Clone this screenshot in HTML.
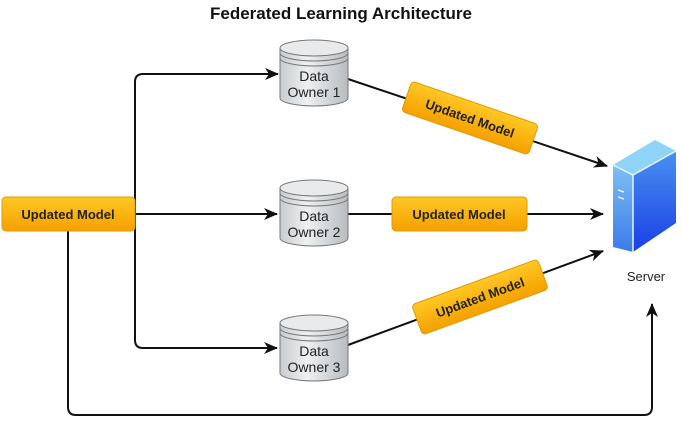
<!DOCTYPE html>
<html><head><meta charset="utf-8"><style>
html,body{margin:0;padding:0;background:#fff;}
svg{display:block;font-family:"Liberation Sans",Arial,sans-serif;}
</style></head><body>
<svg width="682" height="427" viewBox="0 0 682 427" xmlns="http://www.w3.org/2000/svg">
<defs>
<linearGradient id="og" x1="0" y1="0" x2="0" y2="1"><stop offset="0" stop-color="#ffc825"/><stop offset="1" stop-color="#f5a000"/></linearGradient>
<linearGradient id="cg" x1="0" y1="0" x2="1" y2="0"><stop offset="0" stop-color="#c9cccf"/><stop offset="0.4" stop-color="#eef0f1"/><stop offset="1" stop-color="#b8bcbf"/></linearGradient>
<linearGradient id="sf" x1="0" y1="0" x2="0" y2="1"><stop offset="0" stop-color="#7ec0f5"/><stop offset="1" stop-color="#3a7be8"/></linearGradient>
<linearGradient id="ss" x1="0" y1="0" x2="0" y2="1"><stop offset="0" stop-color="#4a90f0"/><stop offset="1" stop-color="#1a3fe6"/></linearGradient>
<marker id="ar" markerWidth="14" markerHeight="12" refX="13" refY="6" orient="auto" markerUnits="userSpaceOnUse"><path d="M0,0 L14,6 L0,12 L4,6 Z" fill="#111"/></marker>
<g id="cyl">
<path d="M0,8 L0,58 A34,8 0 0 0 68,58 L68,8" fill="url(#cg)" stroke="#777" stroke-width="1"/>
<ellipse cx="34" cy="8" rx="34" ry="8" fill="#e8eaec" stroke="#777"/>
<path d="M0,13 A34,8 0 0 0 68,13 M0,18 A34,8 0 0 0 68,18" fill="none" stroke="#777"/>
</g>
</defs>
<text x="341" y="19" text-anchor="middle" font-size="17" font-weight="bold" fill="#111">Federated Learning Architecture</text>

<g fill="none" stroke="#111" stroke-width="2">
<path d="M135,214 L277,214" marker-end="url(#ar)"/>
<path d="M135,214 L135,82 Q135,74 143,74 L278,74" marker-end="url(#ar)"/>
<path d="M135,214 L135,340 Q135,348 143,348 L277,348" marker-end="url(#ar)"/>
<path d="M68,231 L68,407 Q68,415 76,415 L644,415 Q652,415 652,407 L652,304" marker-end="url(#ar)"/>
<path d="M348,79 L607,166" marker-end="url(#ar)"/>
<path d="M348,214 L603,214" marker-end="url(#ar)"/>
<path d="M348,345 L603,251" marker-end="url(#ar)"/>
</g>

<use href="#cyl" x="280" y="40"/>
<use href="#cyl" x="280" y="180"/>
<use href="#cyl" x="280" y="315"/>
<g font-size="14" fill="#222" text-anchor="middle">
<text x="314" y="81">Data</text><text x="314" y="97">Owner 1</text>
<text x="314" y="221">Data</text><text x="314" y="237">Owner 2</text>
<text x="314" y="356">Data</text><text x="314" y="372">Owner 3</text>
</g>

<g font-size="13" font-weight="bold" fill="#222" text-anchor="middle">
<rect x="2" y="197" width="133" height="34" rx="4" fill="url(#og)" stroke="#e39a00"/>
<text x="68" y="219">Updated Model</text>
<rect x="392" y="197" width="135" height="34" rx="4" fill="url(#og)" stroke="#e39a00"/>
<text x="459" y="219">Updated Model</text>
<g transform="translate(470,118) rotate(19)">
<rect x="-67" y="-16" width="134" height="32" rx="4" fill="url(#og)" stroke="#e39a00"/>
<text x="0" y="5">Updated Model</text></g>
<g transform="translate(480,297) rotate(-20)">
<rect x="-67" y="-16" width="134" height="32" rx="4" fill="url(#og)" stroke="#e39a00"/>
<text x="0" y="5">Updated Model</text></g>
</g>

<polygon points="613,165 655,140 676,151 633,175" fill="#8fd3f7"/>
<polygon points="613,165 633,175 633,252 613,247" fill="url(#sf)"/>
<polygon points="633,175 676,151 676,223 633,252" fill="url(#ss)"/>
<path d="M613,165 L633,175 L676,151 M633,175 L633,252" stroke="#e6f4ff" stroke-width="1.5" fill="none"/>
<path d="M618,190 L624,192 M618,197 L624,199" stroke="#e6f4ff" stroke-width="1.5"/>
<text x="646" y="281" text-anchor="middle" font-size="13" fill="#222">Server</text>
</svg>
</body></html>
